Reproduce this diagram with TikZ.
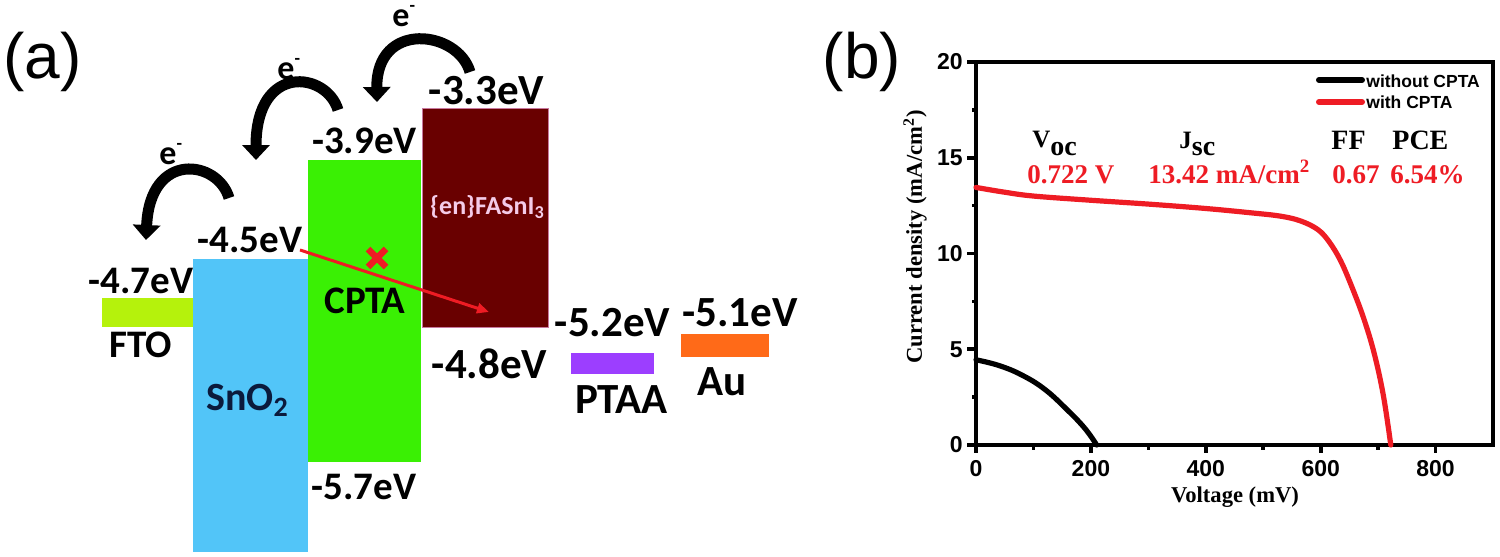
\documentclass[tikz,border=0pt]{standalone}
\usepackage{fontspec}
\usetikzlibrary{arrows.meta}
\newfontfamily\carl{Carlito}
\newfontfamily\arialf{Liberation Sans}
\newfontfamily\timesf{Liberation Serif}
\definecolor{ftoc}{HTML}{B5F20C}
\definecolor{snoc}{HTML}{52C5F8}
\definecolor{cptac}{HTML}{3AF004}
\definecolor{brownc}{HTML}{690000}
\definecolor{brownedge}{HTML}{C8789E}
\definecolor{ptaac}{HTML}{9C3EFF}
\definecolor{auc}{HTML}{FF6A18}
\definecolor{redc}{HTML}{EE1C24}
\definecolor{pinkt}{HTML}{F4CBE8}
\definecolor{navyt}{HTML}{0B1A3C}
\newcommand{\elec}{e\raisebox{7.5pt}{\fontsize{9}{9}\selectfont -}}
\begin{document}
\begin{tikzpicture}[x=0.5pt,y=-0.5pt,
  lbls/.style={inner sep=0pt, font=\carl\bfseries\fontsize{19.5}{20}\selectfont},
  lbll/.style={inner sep=0pt, font=\carl\bfseries\fontsize{21.5}{22}\selectfont},
  elbl/.style={inner sep=0pt, font=\carl\bfseries\fontsize{17}{17}\selectfont},
  panel/.style={inner sep=0pt, font=\arialf\fontsize{32}{32}\selectfont},
  earrow/.style={line width=5.5pt, -{Triangle[width=13.5pt,length=7.5pt]}},
  redarrow/.style={draw=redc, line width=1.5pt, -{Triangle[width=5pt,length=6pt]}},
  redx/.style={draw=redc, line width=3.2pt},
  ticklab/.style={inner sep=0pt, font=\arialf\bfseries\fontsize{11.5}{12}\selectfont},
  legtxt/.style={inner sep=0pt, font=\arialf\bfseries\fontsize{8.75}{9}\selectfont},
  axlab/.style={inner sep=0pt, font=\timesf\bfseries\fontsize{11.3}{12}\selectfont},
  redval/.style={inner sep=0pt, text=redc, font=\timesf\bfseries\fontsize{13.5}{14}\selectfont},
  pframe/.style={line width=1.8pt},
  ivcurve/.style={line width=2.6pt, line join=round, line cap=round}
]
\useasboundingbox (0,0) rectangle (1500,557);
\fill[white] (0,0) rectangle (1500,557);

% ---------------- panel (a) ----------------
\node[panel] (pa) at (42.5,61.5) {(a)};

% energy levels
\fill[ftoc] (102,298) rectangle (193,327);
\fill[snoc] (193,259) rectangle (308,552);
\fill[cptac] (308,160) rectangle (421,462);
\filldraw[fill=brownc, draw=brownedge, line width=0.5pt] (422,108) rectangle (548,327);
\fill[ptaac] (571,353) rectangle (654,374);
\fill[auc] (681,334) rectangle (769,357);

% labels
\node[lbls] (l47) at (141,280.5) {-4.7eV};
\node[lbls] (lfto) at (141,344.5) {FTO};
\node[lbls] (l45) at (250,239.5) {-4.5eV};
\node[lbls, text=navyt, font=\carl\bfseries\fontsize{20}{20}\selectfont] (lsno) at (247.5,400) {SnO\textsubscript{2}};
\node[lbls] (l39) at (364.5,140.5) {-3.9eV};
\node[lbls] (lcpta) at (365,300.5) {CPTA};
\node[lbls] (l57) at (364,486.5) {-5.7eV};
\node[lbll] (l33) at (486.5,91) {-3.3eV};
\node[inner sep=0pt, text=pinkt, font=\carl\bfseries\fontsize{13}{13}\selectfont] (lperov) at (487.5,207) {\{en\}FASnI\textsubscript{3}};
\node[lbll] (l48) at (489.5,363.5) {-4.8eV};
\node[lbll] (l52) at (612.5,322.5) {-5.2eV};
\node[lbll] (lptaa) at (621.5,399.5) {PTAA};
\node[lbll] (l51) at (740,312.5) {-5.1eV};
\node[lbll] (lau) at (722.5,381.5) {Au};

% electron transfer arrows
\coordinate (a1t) at (229,198);
\coordinate (a1h) at (146,240);
\draw[earrow] (a1t) .. controls (218,160) and (150,150) .. (a1h);
\node[elbl, anchor=base west] (e1) at (159,164) {\elec};

\coordinate (a2t) at (338,110);
\coordinate (a2h) at (256,160);
\draw[earrow] (a2t) .. controls (327,72) and (256,62) .. (a2h);
\node[elbl, anchor=base west] (e2) at (277,79) {\elec};

\coordinate (a3t) at (470,72);
\coordinate (a3h) at (377,102);
\draw[earrow] (a3t) .. controls (458,30) and (376,20) .. (a3h);
\node[elbl, anchor=base west] (e3) at (392,26) {\elec};

% blocked transfer
\coordinate (rs) at (300,250);
\coordinate (re) at (489,312);
\draw[redarrow] (rs) -- (re);
\coordinate (xc) at (377,258);
\draw[redx] ([shift={(-9,-9)}]xc) -- ([shift={(9,9)}]xc);
\draw[redx] ([shift={(9,-9)}]xc) -- ([shift={(-9,9)}]xc);

% ---------------- panel (b) ----------------
\node[panel] (pb) at (862,61.5) {(b)};

\begin{scope}[shift={(976,445)}, x=0.28725pt, y=9.575pt]
  \draw[pframe] (0,0) rectangle (900,20);
  \foreach \v in {0,200,400,600,800} {
    \draw[pframe] (\v,0) -- ++(0,-4pt);
    \node[ticklab, anchor=north] at ([yshift=-7.5pt]\v,0) {\v};
  }
  \foreach \v in {100,300,500,700} \draw[pframe] (\v,0) -- ++(0,-2.5pt);
  \foreach \v in {0,5,10,15,20} {
    \draw[pframe] (0,\v) -- ++(-4.5pt,0);
    \node[ticklab, anchor=east] at ([xshift=-6.5pt]0,\v) {\v};
  }
  \foreach \v in {2.5,7.5,12.5,17.5} \draw[pframe] (0,\v) -- ++(-2pt,0);
  % J-V curves
  \draw[ivcurve, black] plot[smooth, tension=0.7] coordinates {(0,4.45) (40,4.15) (80,3.65) (120,2.9) (160,1.8) (190,0.85) (210,0)};
  \draw[ivcurve, redc] plot[smooth, tension=0.6] coordinates {(0,13.45) (50,13.2) (100,13.0) (200,12.78) (300,12.58) (400,12.35) (480,12.12) (530,11.95) (565,11.7) (595,11.25) (615,10.6) (635,9.6) (655,8.2) (675,6.6) (693,4.8) (709,2.6) (722,0)};
\end{scope}

% axis titles
\node[axlab] (xt) at (1235,497) {Voltage (mV)};
\node[axlab, rotate=90] (yt) at (915,237) {Current density (mA/cm\textsuperscript{2})};

% legend
\coordinate (lg1a) at (1319,80);
\coordinate (lg1b) at (1362,80);
\coordinate (lg2a) at (1319,102);
\coordinate (lg2b) at (1362,102);
\draw[line width=3pt, line cap=round, black] (lg1a) -- (lg1b);
\draw[line width=3pt, line cap=round, redc] (lg2a) -- (lg2b);
\node[legtxt, anchor=west] (lgt1) at (1366,81) {without CPTA};
\node[legtxt, anchor=west] (lgt2) at (1366,102) {with CPTA};

% parameters
\node[inner sep=0pt, anchor=base west, font=\timesf\bfseries] (hv) at (1032,147)
  {{\fontsize{12.5}{12.5}\selectfont V}\raisebox{-4pt}{\fontsize{14}{14}\selectfont oc}};
\node[inner sep=0pt, anchor=base west, font=\timesf\bfseries] (hj) at (1179,148)
  {{\fontsize{12.5}{12.5}\selectfont J}\raisebox{-3.5pt}{\fontsize{14}{14}\selectfont sc}};
\node[inner sep=0pt, anchor=base west, font=\timesf\bfseries\fontsize{14}{14}\selectfont] (hff) at (1331,149) {FF};
\node[inner sep=0pt, anchor=base west, font=\timesf\bfseries\fontsize{14}{14}\selectfont] (hpce) at (1392,149) {PCE};
\node[redval, anchor=base west] (vv) at (1027,183) {0.722 V};
\node[redval, anchor=base west] (vj) at (1148,183) {13.42 mA/cm\textsuperscript{2}};
\node[redval, anchor=base west] (vff) at (1332,183) {0.67};
\node[redval, anchor=base west] (vpce) at (1390,183) {6.54\%};
\end{tikzpicture}
\end{document}
